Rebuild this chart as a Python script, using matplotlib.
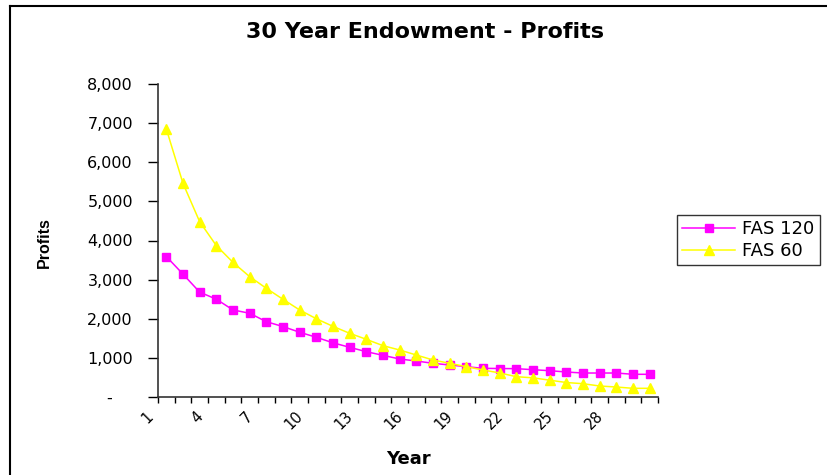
import numpy as np
import matplotlib.pyplot as plt
from matplotlib.lines import Line2D

plt.rcParams['font.family'] = ['DejaVu Sans']

years = list(range(1, 31))
fas120 = [3590, 3140, 2680, 2500, 2225, 2140, 1925, 1800, 1655, 1526,
          1385, 1270, 1158, 1065, 971, 920, 861, 818, 775, 733,
          728, 724, 698, 672, 639, 613, 613, 613, 580, 580]
fas60 = [6850, 5460, 4480, 3870, 3440, 3076, 2778, 2497, 2224, 2000,
         1805, 1628, 1474, 1312, 1201, 1073, 946, 861, 775, 690,
         615, 519, 490, 430, 370, 340, 281, 255, 222, 222]
y_ticks = [0, 1000, 2000, 3000, 4000, 5000, 6000, 7000, 8000]
x_label_years = [1, 4, 7, 10, 13, 16, 19, 22, 25, 28]

fig = plt.figure(figsize=(8.27, 4.75), dpi=100)
ax = fig.add_axes([158 / 827, 1 - 397 / 475, 500 / 827, 313 / 475])

ax.plot(years, fas120, color='#FF00FF', lw=1.1, marker='s', ms=6.3,
        mec='#FF00FF', label='FAS 120')
ax.plot(years, fas60, color='#FFFF00', lw=1.1, marker='^', ms=7,
        mec='#FFFF00', label='FAS 60')

ax.set_xlim(0.5, 30.5)
ax.set_ylim(0, 8000)

for side in ['top', 'right']:
    ax.spines[side].set_visible(False)
for side in ['left', 'bottom']:
    ax.spines[side].set_linewidth(1.2)
    ax.spines[side].set_color('#333333')

ax.set_yticks(y_ticks)
ax.set_yticklabels(['-    ' if v == 0 else f'{v:,}' for v in y_ticks], fontsize=11.5)
ax.tick_params(axis='y', direction='out', length=7, width=1, pad=11)

# category boundaries get the tick marks, labels sit on every third year
ax.set_xticks(np.arange(0.5, 31, 1.0))
ax.set_xticklabels([])
ax.tick_params(axis='x', which='major', direction='out', length=4, width=1)
for yr in x_label_years:
    ax.text(yr - 0.95, -430, str(yr), rotation=45, ha='right', va='center',
            rotation_mode='anchor', fontsize=10.5)

ax.set_xlabel('Year', fontsize=13, fontweight='bold')
ax.xaxis.set_label_coords(0.5, -(459 - 397) / 313)
ax.xaxis.label.set_va('center')
ax.set_ylabel('Profits', fontsize=11.5, fontweight='bold', family='Liberation Sans')
ax.yaxis.set_label_coords((44 - 158) / 500, (397 - 243) / 313)
ax.yaxis.label.set_va('center')

fig.text(425 / 827, 1 - 32 / 475, '30 Year Endowment - Profits',
         ha='center', va='center', fontsize=16, fontweight='bold')

leg = fig.legend(loc='upper left', bbox_to_anchor=(677 / 827, 1 - 215 / 475),
                 fontsize=13, frameon=True, fancybox=False, borderpad=0.3,
                 handlelength=2.9, handletextpad=0.4, labelspacing=0.2,
                 borderaxespad=0)
leg.get_frame().set_edgecolor('black')
leg.get_frame().set_linewidth(1)

# outer chart border (left and top only visible)
fig.add_artist(Line2D([10 / 827, 10 / 827], [0, 1 - 5.5 / 475], color='black', lw=1.5,
                      transform=fig.transFigure))
fig.add_artist(Line2D([10 / 827, 1], [1 - 5.5 / 475, 1 - 5.5 / 475], color='black', lw=1.5,
                      transform=fig.transFigure))

fig.savefig('out.png', dpi=100)
